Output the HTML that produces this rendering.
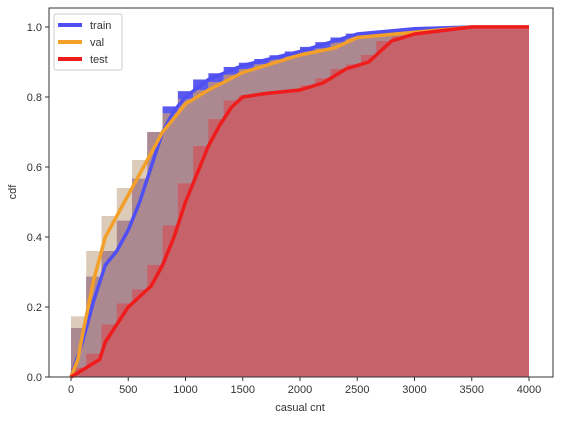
<!DOCTYPE html>
<html><head><meta charset="utf-8"><style>
body{margin:0;background:#fff;}
svg{display:block;font-family:"Liberation Sans","DejaVu Sans",sans-serif;}
</style></head><body>
<svg id="chart" width="563" height="423" viewBox="0 0 563 423"></svg>
<script>
const trainX=[0,100,200,300,400,500,600,700,800,900,1000,1200,1500,2000,2500,3000,3500,4000];
const trainY=[0,0.1,0.22,0.32,0.36,0.42,0.5,0.6,0.7,0.76,0.8,0.85,0.89,0.93,0.98,0.995,1,1];
const valX=[0,60,100,200,300,400,500,600,700,800,1000,1200,1500,2000,2300,2500,3000,3500,4000];
const valY=[0,0.05,0.12,0.28,0.4,0.46,0.52,0.58,0.64,0.7,0.78,0.82,0.87,0.92,0.94,0.97,0.985,1,1];
const testX=[0,100,250,300,400,500,600,700,800,900,1000,1100,1200,1300,1400,1500,1700,2000,2200,2400,2600,2700,2800,3000,3500,4000];
const testY=[0,0.02,0.05,0.1,0.15,0.2,0.23,0.26,0.32,0.4,0.5,0.58,0.66,0.72,0.77,0.8,0.81,0.82,0.84,0.88,0.9,0.93,0.96,0.98,1,1];
const xTicks=[0,500,1000,1500,2000,2500,3000,3500,4000];
const yTicks=[0,0.2,0.4,0.6,0.8,1.0];
const binCount=30, xMax=4000;

const svg=document.getElementById('chart');
const NS='http://www.w3.org/2000/svg';
const L=49,R=553,T=8,B=377;
const sx=v=>71+v*(529-71)/4000;
const sy=v=>377-v*350;
function mk(tag,attrs){const e=document.createElementNS(NS,tag);for(const k in attrs)e.setAttribute(k,attrs[k]);svg.appendChild(e);return e;}
function interp(xs,ys,x){for(let i=1;i<xs.length;i++){if(x<=xs[i]){const t=(x-xs[i-1])/(xs[i]-xs[i-1]);return ys[i-1]+t*(ys[i]-ys[i-1]);}}return ys[ys.length-1];}
function bins(xs,ys){const h=[];const w=xMax/binCount;for(let i=0;i<binCount;i++)h.push(interp(xs,ys,(i+1)*w));return h;}
function stepPath(h){const w=xMax/binCount;let d='M'+sx(0)+','+sy(0);for(let i=0;i<h.length;i++){d+=' L'+sx(i*w)+','+sy(h[i])+' L'+sx((i+1)*w)+','+sy(h[i]);}d+=' L'+sx(xMax)+','+sy(0)+' Z';return d;}
function linePath(xs,ys){return xs.map((x,i)=>(i?'L':'M')+sx(x)+','+sy(ys[i])).join(' ');}

const hTrain=bins(trainX,trainY),hVal=bins(valX,valY),hTest=bins(testX,testY);
const hBoth=hTrain.map((v,i)=>Math.min(v,hVal[i]));
let e;
e=mk('path',{d:stepPath(hTrain),fill:'#5a5aee'});


e=mk('path',{d:stepPath(hVal),fill:'#dccbb8'});


e=mk('path',{d:stepPath(hBoth),fill:'#ac8891'});


e=mk('path',{d:stepPath(hTest),fill:'#c6626a'});


e=mk('path',{d:linePath(trainX,trainY),fill:'none',stroke:'#4f4ff2','stroke-width':3.5,'stroke-linejoin':'round'});


e=mk('path',{d:linePath(valX,valY),fill:'none',stroke:'#f2a02a','stroke-width':3.5,'stroke-linejoin':'round'});


e=mk('path',{d:linePath(testX,testY),fill:'none',stroke:'#ee1c1c','stroke-width':3.5,'stroke-linejoin':'round'});



e=mk('rect',{x:L,y:T,width:R-L,height:B-T,fill:'none',stroke:'#333','stroke-width':1});


xTicks.forEach(v=>{
  e=mk('line',{x1:sx(v),x2:sx(v),y1:B,y2:B+4,stroke:'#333'});
  
  
  e=mk('text',{x:sx(v),y:B+16,'text-anchor':'middle','font-size':11,fill:'#333'});
  e.textContent=v;
  
  
});
yTicks.forEach(v=>{
  e=mk('line',{x1:L-4,x2:L,y1:sy(v),y2:sy(v),stroke:'#333'});
  
  
  e=mk('text',{x:L-7,y:sy(v)+4,'text-anchor':'end','font-size':11,fill:'#333'});
  e.textContent=v.toFixed(1);
  
  
});
e=mk('text',{x:300,y:411,'text-anchor':'middle','font-size':11,fill:'#333'});
e.textContent='casual cnt';


e=mk('text',{x:16,y:192,'text-anchor':'middle','font-size':11,fill:'#333',transform:'rotate(-90 16 192)'});
e.textContent='cdf';



e=mk('rect',{x:54,y:14,width:68,height:56,fill:'#fff','fill-opacity':0.85,stroke:'#ccc',rx:2});


[['train','#4f4ff2'],['val','#f2a02a'],['test','#ee1c1c']].forEach((s,i)=>{
  const y=25+i*17;
  e=mk('line',{x1:58,x2:82,y1:y,y2:y,stroke:s[1],'stroke-width':4});
  
  
  e=mk('text',{x:90,y:y+4,'font-size':11,fill:'#333'});
  e.textContent=s[0];
  
  
});
</script>
</body></html>
